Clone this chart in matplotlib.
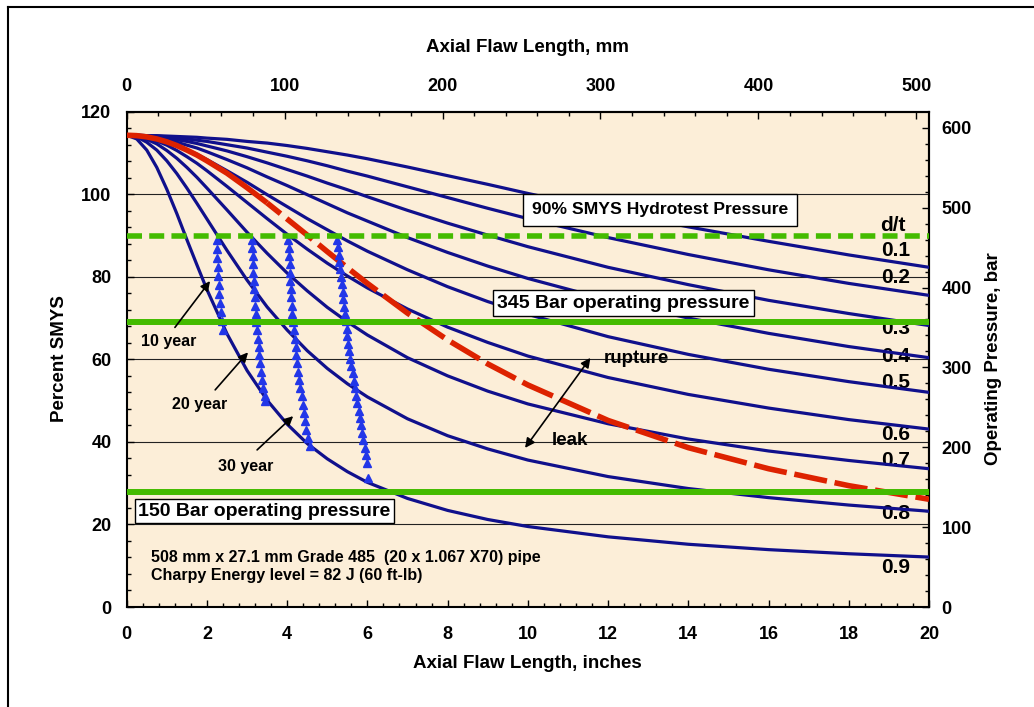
import matplotlib
matplotlib.use("Agg")
import matplotlib.pyplot as plt
from matplotlib.ticker import MultipleLocator, FixedLocator
from matplotlib.lines import Line2D

plt.rcParams["font.family"] = ["Liberation Sans", "DejaVu Sans"]
plt.rcParams["font.weight"] = "bold"

# flaw length, inches (shared by all the failure curves)
flaw_in = [0, 0.25, 0.5, 0.75, 1, 1.25, 1.5, 1.75, 2, 2.5, 3, 3.5, 4, 4.5, 5, 5.5, 6, 7, 8, 9, 10, 12, 14, 16, 18, 20]

# failure stress, % SMYS, one list per d/t ratio
dt_01 = [114.3, 114.3, 114.2, 114.2, 114.1, 114.0, 113.9, 113.8, 113.6, 113.3, 112.8, 112.4, 111.8, 111.1, 110.3, 109.5, 108.6, 106.6, 104.5, 102.4, 100.2, 96.0, 92.1, 88.6, 85.3, 82.3]
dt_02 = [114.3, 114.3, 114.2, 114.1, 113.9, 113.7, 113.4, 113.1, 112.8, 112.0, 111.2, 110.2, 109.2, 108.1, 106.9, 105.6, 104.4, 101.8, 99.2, 96.6, 94.1, 89.5, 85.4, 81.7, 78.4, 75.5]
dt_03 = [114.3, 114.3, 114.1, 113.9, 113.6, 113.2, 112.8, 112.3, 111.7, 110.5, 109.1, 107.6, 106.0, 104.4, 102.7, 101.1, 99.4, 96.1, 93.0, 90.1, 87.3, 82.3, 78.1, 74.3, 71.1, 68.2]
dt_04 = [114.3, 114.2, 114.0, 113.7, 113.2, 112.6, 111.9, 111.2, 110.3, 108.4, 106.4, 104.2, 102.1, 99.9, 97.7, 95.5, 93.5, 89.5, 85.9, 82.6, 79.6, 74.4, 70.0, 66.3, 63.1, 60.4]
dt_05 = [114.3, 114.2, 113.9, 113.4, 112.7, 111.8, 110.8, 109.7, 108.4, 105.7, 102.9, 99.9, 97.0, 94.1, 91.4, 88.7, 86.2, 81.7, 77.6, 74.0, 70.9, 65.5, 61.2, 57.6, 54.6, 52.0]
dt_06 = [114.3, 114.1, 113.7, 112.9, 111.9, 110.6, 109.1, 107.5, 105.7, 101.9, 98.0, 94.1, 90.3, 86.7, 83.3, 80.2, 77.3, 72.2, 67.8, 64.1, 60.8, 55.6, 51.5, 48.2, 45.4, 43.1]
dt_07 = [114.3, 114.1, 113.3, 112.2, 110.6, 108.7, 106.5, 104.1, 101.5, 96.2, 90.8, 85.7, 80.9, 76.6, 72.6, 69.1, 65.9, 60.4, 56.0, 52.3, 49.2, 44.4, 40.7, 37.8, 35.5, 33.5]
dt_08 = [114.3, 113.9, 112.6, 110.7, 108.1, 105.0, 101.5, 97.8, 94.0, 86.4, 79.2, 72.7, 67.1, 62.1, 57.8, 54.1, 50.9, 45.6, 41.5, 38.3, 35.6, 31.6, 28.7, 26.5, 24.7, 23.2]
dt_09 = [114.3, 113.4, 110.7, 106.5, 101.2, 95.3, 89.0, 82.9, 76.9, 66.2, 57.3, 50.1, 44.3, 39.6, 35.9, 32.8, 30.2, 26.3, 23.4, 21.2, 19.5, 17.0, 15.2, 13.9, 12.9, 12.1]
dt_curves = [dt_01, dt_02, dt_03, dt_04, dt_05, dt_06, dt_07, dt_08, dt_09]
dt_labels = ["0.1", "0.2", "0.3", "0.4", "0.5", "0.6", "0.7", "0.8", "0.9"]
dt_label_y = [86.3, 79.9, 67.4, 60.8, 54.5, 41.8, 35.5, 22.6, 9.6]

# leak / rupture boundary (through-wall flaw), same flaw lengths
rupture = [114.3, 114.2, 113.9, 113.4, 112.7, 111.8, 110.7, 109.5, 108.1, 105.1, 101.6, 97.9, 94.0, 90.1, 86.1, 82.2, 78.4, 71.2, 64.7, 58.9, 53.8, 45.2, 38.6, 33.5, 29.4, 26.1]
solid_end = 11  # red line is solid up to 3.5 in, dashed after

# crack growth, 10 / 20 / 30 year columns of triangles
grow1_x = [2.24, 2.25, 2.26, 2.27, 2.28, 2.30, 2.31, 2.33, 2.35, 2.37, 2.39]
grow1_y = [89, 86.8, 84.6, 82.4, 80.2, 78.0, 75.8, 73.6, 71.4, 69.2, 67.0]
grow2_x = [3.12, 3.13, 3.14, 3.15, 3.16, 3.17, 3.18, 3.19, 3.20, 3.22, 3.23, 3.25, 3.27, 3.29, 3.31, 3.33, 3.35, 3.38, 3.41, 3.44, 3.46]
grow2_y = [89, 87, 85, 83, 81, 79, 77, 75, 73, 71, 69, 67, 65, 63, 61, 59, 57, 55, 53, 51, 49.8]
grow3_x = [4.03, 4.04, 4.05, 4.06, 4.07, 4.08, 4.09, 4.10, 4.12, 4.13, 4.15, 4.17, 4.19, 4.21, 4.23, 4.25, 4.27, 4.30, 4.33, 4.36, 4.39, 4.42, 4.45, 4.48, 4.52, 4.56]
grow3_y = [89, 87, 85, 83, 81, 79, 77, 75, 73, 71, 69, 67, 65, 63, 61, 59, 57, 55, 53, 51, 49, 47, 45, 43, 41, 39]
grow4_x = [5.24, 5.26, 5.28, 5.30, 5.32, 5.34, 5.36, 5.38, 5.40, 5.42, 5.44, 5.46, 5.48, 5.50, 5.52, 5.54, 5.57, 5.60, 5.63, 5.66, 5.69, 5.72, 5.75, 5.78, 5.81, 5.84, 5.87, 5.90, 5.93, 5.96, 5.99, 6.01]
grow4_y = [89, 87.2, 85.4, 83.6, 81.8, 80.0, 78.2, 76.4, 74.6, 72.8, 71.0, 69.2, 67.4, 65.6, 63.8, 62.0, 60.2, 58.4, 56.6, 54.8, 53.0, 51.2, 49.4, 47.6, 45.8, 44.0, 42.2, 40.4, 38.6, 36.8, 35.0, 31.3]

hydrotest = 90.0
op_345 = 69.0
op_150 = 27.8
bar_per_pct = 5.168

W, H = 1034, 707
fig = plt.figure(figsize=(W / 100, H / 100), dpi=100)
ax = fig.add_axes([126.7 / W, 1 - 607 / H, (929 - 126.7) / W, (607 - 111.7) / H])
ax.set_facecolor("#FCEED8")
ax.set_xlim(0, 20)
ax.set_ylim(0, 120)

for yv in [20, 40, 60, 80, 100]:
    ax.axhline(yv, color="#222222", lw=0.8, zorder=1)

for lab, ly in zip(dt_labels, dt_label_y):
    ax.text(19.17, ly, lab, fontsize=15, ha="center", va="center", zorder=2)
ax.text(19.1, 92.4, "d/t", fontsize=15, ha="center", va="center", zorder=2)

for ys in dt_curves:
    ax.plot(flaw_in, ys, color="#10108C", lw=2.3, zorder=3, solid_joinstyle="round")

ax.plot(flaw_in[:solid_end + 1], rupture[:solid_end + 1], color="#DD2200", lw=4, zorder=4,
        solid_capstyle="butt", solid_joinstyle="round")
ax.plot(flaw_in[solid_end:], rupture[solid_end:], color="#DD2200", lw=4, zorder=4,
        linestyle=(2.9, (6, 1.4)))

for gx, gy in [(grow1_x, grow1_y), (grow2_x, grow2_y), (grow3_x, grow3_y), (grow4_x, grow4_y)]:
    ax.plot(gx, gy, ls="none", marker="^", ms=5.5, color="#2236E8", mec="#2236E8", zorder=5)

ax.axhline(hydrotest, color="#44BB00", lw=4, dashes=(2.7, 1.3), zorder=6)
ax.axhline(op_345, color="#44BB00", lw=4.3, zorder=6)
ax.axhline(op_150, color="#44BB00", lw=4.3, zorder=6)

box = dict(boxstyle="square", fc="white", ec="black", lw=1)
ax.text(13.3, 96.2, "90% SMYS Hydrotest Pressure", fontsize=12.6, ha="center", va="center",
        bbox=dict(box, pad=0.5), zorder=7)
ax.text(12.38, 73.6, "345 Bar operating pressure", fontsize=14, ha="center", va="center",
        bbox=dict(box, pad=0.22), zorder=7)
ax.text(3.43, 23.2, "150 Bar operating pressure", fontsize=14, ha="center", va="center",
        bbox=dict(box, pad=0.17), zorder=7)

arrow = dict(arrowstyle="-|>", color="black", lw=1.2, mutation_scale=14)
ax.annotate("", xy=(2.12, 79.5), xytext=(1.16, 67.2), arrowprops=arrow, zorder=8)
ax.annotate("", xy=(3.07, 62.2), xytext=(2.16, 52.1), arrowprops=arrow, zorder=8)
ax.annotate("", xy=(4.2, 46.7), xytext=(3.2, 37.6), arrowprops=arrow, zorder=8)
ax.annotate("", xy=(11.6, 60.9), xytext=(9.89, 38.0),
            arrowprops=dict(arrowstyle="<|-|>", color="black", lw=1.2, mutation_scale=14), zorder=8)
ax.text(1.05, 64.3, "10 year", fontsize=11.5, ha="center", va="center", zorder=8)
ax.text(1.83, 49.0, "20 year", fontsize=11.5, ha="center", va="center", zorder=8)
ax.text(2.97, 34.1, "30 year", fontsize=11.5, ha="center", va="center", zorder=8)
ax.text(11.88, 60.1, "rupture", fontsize=13.5, ha="left", va="center", zorder=8)
ax.text(10.6, 40.4, "leak", fontsize=13.5, ha="left", va="center", zorder=8)

ax.text(0.61, 12.0, "508 mm x 27.1 mm Grade 485  (20 x 1.067 X70) pipe", fontsize=11.5,
        ha="left", va="center", zorder=8)
ax.text(0.61, 7.7, "Charpy Energy level = 82 J (60 ft-lb)", fontsize=11.5,
        ha="left", va="center", zorder=8)

# axes, ticks
for s in ax.spines.values():
    s.set_linewidth(1.5)
ax.xaxis.set_major_locator(MultipleLocator(2))
ax.xaxis.set_minor_locator(MultipleLocator(0.4))
ax.yaxis.set_major_locator(MultipleLocator(20))
ax.yaxis.set_minor_locator(MultipleLocator(4))
ax.tick_params(which="both", direction="in", width=1)
ax.tick_params(which="major", length=5, labelsize=13)
ax.tick_params(which="minor", length=3)
ax.tick_params(axis="x", pad=14)
ax.tick_params(axis="y", pad=11)

top = ax.secondary_xaxis("top", functions=(lambda x: x * 25.4, lambda m: m / 25.4))
top.xaxis.set_major_locator(FixedLocator([0, 100, 200, 300, 400, 500]))
top.xaxis.set_minor_locator(FixedLocator(list(range(0, 501, 20))))
top.tick_params(which="both", direction="in", width=1)
top.tick_params(which="major", length=5, labelsize=13, pad=12)
top.tick_params(which="minor", length=3)
top.spines["top"].set_linewidth(1.5)

right = ax.secondary_yaxis("right", functions=(lambda p: p * bar_per_pct, lambda b: b / bar_per_pct))
right.yaxis.set_major_locator(FixedLocator([0, 100, 200, 300, 400, 500, 600]))
right.yaxis.set_minor_locator(FixedLocator(list(range(0, 601, 20))))
right.tick_params(which="both", direction="in", width=1)
right.tick_params(which="major", length=5, labelsize=13, pad=9)
right.tick_params(which="minor", length=3)
right.spines["right"].set_linewidth(1.5)

fig.text(527 / W, 1 - 48 / H, "Axial Flaw Length, mm", fontsize=13.5, ha="center", va="center")
fig.text(527 / W, 1 - 663 / H, "Axial Flaw Length, inches", fontsize=13.5, ha="center", va="center")
fig.text(60 / W, 1 - 359 / H, "Percent SMYS", fontsize=13.5, rotation=90, ha="center", va="center")
fig.text(993 / W, 1 - 359 / H, "Operating Pressure, bar", fontsize=13.5, rotation=90, ha="center", va="center")

# outer frame (left and top edges visible)
fig.add_artist(Line2D([8 / W, 8 / W], [0, 1 - 7 / H], transform=fig.transFigure, color="black", lw=1.5))
fig.add_artist(Line2D([8 / W, 1], [1 - 7 / H, 1 - 7 / H], transform=fig.transFigure, color="black", lw=1.5))

fig.savefig("out.png", dpi=100)
